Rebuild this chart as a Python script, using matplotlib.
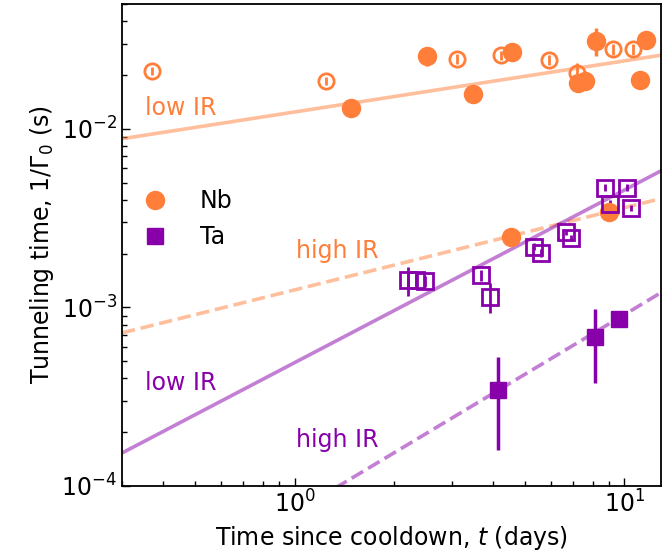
import numpy as np
import matplotlib
matplotlib.use('Agg')
import matplotlib.pyplot as plt

# colours
nb_col = '#FF7F3A'
ta_col = '#8800AA'

# Nb, open circles
nb_open_t = [0.369, 1.244, 3.10, 4.22, 5.90, 7.20, 9.26, 10.6]
nb_open_y = [0.0211, 0.0186, 0.0246, 0.0259, 0.0244, 0.0205, 0.0279, 0.0279]
nb_open_err = [0.001, 0.001, 0.0015, 0.0015, 0.0015, 0.003, 0.002, 0.002]

# Nb, filled circles
nb_fill_t = [1.48, 2.52, 3.48, 4.56, 7.24, 7.57, 8.19, 11.13, 11.6, 4.54, 8.99]
nb_fill_y = [0.01315, 0.0256, 0.0156, 0.0271, 0.01805, 0.01853, 0.0311, 0.0188, 0.0315, 0.00247, 0.00342]
nb_fill_err = [0.0005, 0.003, 0.0005, 0.001, 0.0008, 0.0008, 0.0055, 0.002, 0.001, 0.0002, 0.0001]

# Ta, open squares
ta_open_t = [2.20, 2.34, 2.49, 3.68, 3.92, 5.32, 5.60, 6.64, 6.89, 8.71, 9.03, 10.2, 10.47]
ta_open_y = [1.42e-3, 1.42e-3, 1.40e-3, 1.51e-3, 1.15e-3, 2.19e-3, 2.02e-3, 2.63e-3, 2.44e-3,
             4.69e-3, 3.77e-3, 4.69e-3, 3.61e-3]
ta_open_err = [0.26e-3, 0.1e-3, 0.1e-3, 0.1e-3, 0.22e-3, 0.1e-3, 0.1e-3, 0.1e-3, 0.1e-3,
               0.2e-3, 0.2e-3, 0.2e-3, 0.15e-3]

# Ta, filled squares
ta_fill_t = [4.14, 8.15, 9.60]
ta_fill_y = [3.44e-4, 6.87e-4, 8.59e-4]
ta_fill_lo = [1.84e-4, 3.08e-4, 0.3e-4]
ta_fill_hi = [1.86e-4, 2.93e-4, 0.3e-4]

# fit lines (end points)
fit_t = [0.3, 13.0]
nb_low_fit = [0.0088, 0.0259]
nb_high_fit = [7.2e-4, 4.08e-3]
ta_low_fit = [1.53e-4, 5.86e-3]
ta_high_fit = [1.87e-5, 1.22e-3]

plt.rcParams['font.family'] = 'DejaVu Sans'
fig = plt.figure(figsize=(6.68, 5.56), dpi=100)
ax = fig.add_axes([0.1826, 0.1259, 0.8069, 0.8669])

ax.plot(fit_t, nb_low_fit, '-', color=nb_col, alpha=0.5, lw=2.6)
ax.plot(fit_t, nb_high_fit, '--', color=nb_col, alpha=0.5, lw=2.6)
ax.plot(fit_t, ta_low_fit, '-', color=ta_col, alpha=0.5, lw=2.6)
ax.plot(fit_t, ta_high_fit, '--', color=ta_col, alpha=0.5, lw=2.6)

ax.errorbar(nb_open_t, nb_open_y, yerr=nb_open_err, fmt='o', ms=11, mfc='none', mec=nb_col,
            mew=2, color=nb_col, elinewidth=2, capsize=0)
ax.errorbar(nb_fill_t, nb_fill_y, yerr=nb_fill_err, fmt='o', ms=13, color=nb_col,
            elinewidth=2.5, capsize=0)
ax.errorbar(ta_open_t, ta_open_y, yerr=ta_open_err, fmt='s', ms=11, mfc='none', mec=ta_col,
            mew=2, color=ta_col, elinewidth=2, capsize=0)
ax.errorbar(ta_fill_t, ta_fill_y, yerr=[ta_fill_lo, ta_fill_hi], fmt='s', ms=12, color=ta_col,
            elinewidth=2.5, capsize=0)

# legend
h1, = ax.plot([], [], 'o', ms=13, color=nb_col, label='Nb')
h2, = ax.plot([], [], 's', ms=12, color=ta_col, label='Ta')
ax.legend(handles=[h1, h2], loc='upper left', bbox_to_anchor=(0.0, 0.66), frameon=False,
          fontsize=17, handlelength=1.0, handletextpad=1.4, labelspacing=0.5)

ax.text(0.043, 0.784, 'low IR', color=nb_col, fontsize=17, transform=ax.transAxes, va='center')
ax.text(0.323, 0.488, 'high IR', color=nb_col, fontsize=17, transform=ax.transAxes, va='center')
ax.text(0.043, 0.214, 'low IR', color=ta_col, fontsize=17, transform=ax.transAxes, va='center')
ax.text(0.323, 0.095, 'high IR', color=ta_col, fontsize=17, transform=ax.transAxes, va='center')

ax.set_xscale('log')
ax.set_yscale('log')
ax.set_xlim(0.3, 12.9)
ax.set_ylim(1e-4, 0.05)
ax.tick_params(which='both', direction='in', labelsize=17, width=1)
ax.tick_params(which='major', length=6)
ax.tick_params(which='minor', length=3.5)
for s in ax.spines.values():
    s.set_linewidth(1.3)

ax.set_xlabel('Time since cooldown, $t$ (days)', fontsize=17)
ax.set_ylabel(r'Tunneling time, $1/\Gamma_0$ (s)', fontsize=17)

fig.savefig('out.png', dpi=100)
